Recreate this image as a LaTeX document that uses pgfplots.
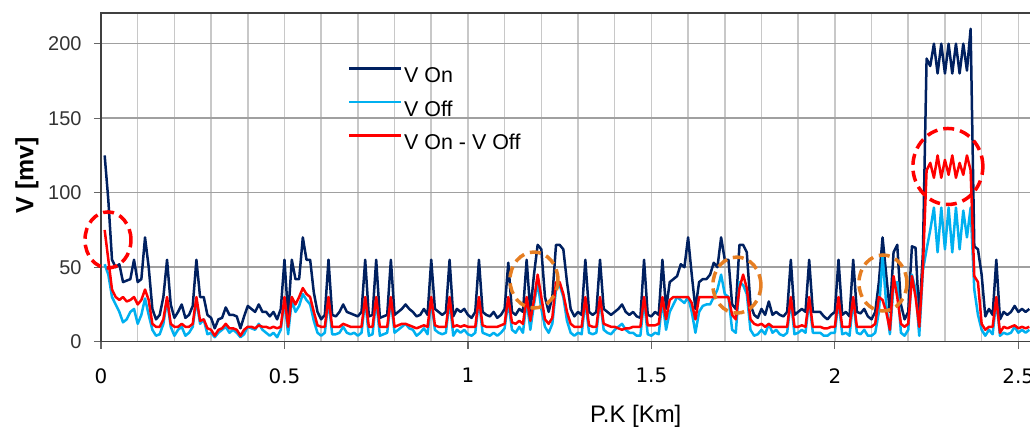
\documentclass[border=0pt]{standalone}
\usepackage{pgfplots}
\pgfplotsset{compat=1.18}
\usepackage{pgfplotstable}
\usepackage{fontspec}
\setmainfont{Liberation Sans}
\newfontfamily\dejavu{DejaVu Sans}

\definecolor{von}{RGB}{0,32,96}
\definecolor{voff}{RGB}{0,176,240}
\definecolor{vdiff}{RGB}{255,0,0}
\definecolor{annorange}{RGB}{230,126,34}
\definecolor{hgrid}{RGB}{160,160,160}
\definecolor{vgrid}{RGB}{200,200,200}

% P.K [km], V On, V Off, V On - V Off [mv]
\pgfplotstableread{
x on off diff
0.01 125 52 75
0.02 95 45 55
0.03 55 30 35
0.04 50 25 30
0.05 52 20 28
0.06 40 13 30
0.07 41 15 27
0.08 42 20 28
0.09 55 22 30
0.10 40 12 25
0.11 42 18 28
0.12 70 29 35
0.13 50 18 28
0.14 22 8 12
0.15 15 4 10
0.16 18 5 10
0.17 30 12 15
0.18 55 28 30
0.19 25 10 12
0.20 16 4 10
0.21 20 8 10
0.22 25 10 12
0.23 16 4 10
0.24 18 6 10
0.25 24 10 12
0.26 55 28 30
0.27 30 12 14
0.28 30 15 15
0.29 18 5 9
0.30 16 6 8
0.31 9 3 4
0.32 15 6 8
0.33 16 8 9
0.34 23 10 12
0.35 18 6 9
0.36 18 8 9
0.37 17 6 8
0.38 9 3 4
0.39 17 5 8
0.40 24 10 10
0.41 22 9 10
0.42 20 8 9
0.43 25 12 11
0.44 20 8 10
0.45 20 6 10
0.46 17 4 9
0.47 20 6 10
0.48 15 3 9
0.49 22 8 10
0.50 55 28 30
0.51 17 5 10
0.52 55 28 30
0.53 42 20 25
0.54 42 24 30
0.55 70 32 36
0.56 55 28 32
0.57 55 25 30
0.58 33 14 20
0.59 20 6 11
0.60 15 4 10
0.61 18 6 10
0.62 55 28 30
0.63 18 5 10
0.64 17 5 10
0.65 20 6 10
0.66 25 10 12
0.67 20 6 11
0.68 19 5 10
0.69 18 6 10
0.70 17 4 10
0.71 20 6 10
0.72 55 28 30
0.73 17 4 10
0.74 18 5 10
0.75 55 28 30
0.76 16 4 10
0.77 17 5 10
0.78 18 6 10
0.79 55 28 30
0.80 18 6 10
0.81 20 8 11
0.82 22 10 12
0.83 25 12 12
0.84 22 9 11
0.85 20 8 10
0.86 17 4 9
0.87 18 6 10
0.88 22 9 11
0.89 18 5 10
0.90 55 28 30
0.91 22 8 11
0.92 20 6 10
0.93 18 5 10
0.94 20 6 10
0.95 55 28 30
0.96 17 4 10
0.97 22 8 11
0.98 20 6 10
0.99 22 8 11
1.00 18 5 10
1.01 16 4 10
1.02 20 6 10
1.03 55 28 30
1.04 20 6 11
1.05 18 5 10
1.06 17 4 10
1.07 20 6 10
1.08 16 4 10
1.09 18 6 11
1.10 22 9 12
1.11 53 27 30
1.12 20 8 13
1.13 18 6 12
1.14 22 10 14
1.15 20 6 12
1.16 55 28 30
1.17 20 8 14
1.18 45 25 28
1.19 65 40 45
1.20 62 22 30
1.21 30 10 15
1.22 20 6 12
1.23 30 12 16
1.24 65 35 40
1.25 65 38 40
1.26 62 30 32
1.27 40 14 20
1.28 22 6 12
1.29 17 4 10
1.30 20 6 10
1.31 18 5 10
1.32 55 28 30
1.33 20 6 11
1.34 18 5 10
1.35 20 6 10
1.36 55 28 30
1.37 22 8 12
1.38 20 6 11
1.39 18 5 10
1.40 20 8 10
1.41 22 10 9
1.42 25 12 8
1.43 20 8 9
1.44 18 6 9
1.45 20 6 10
1.46 17 4 10
1.47 16 4 10
1.48 55 28 30
1.49 18 5 11
1.50 17 4 11
1.51 20 6 11
1.52 18 5 12
1.53 55 28 30
1.54 22 8 15
1.55 40 20 28
1.56 42 25 30
1.57 44 30 30
1.58 52 28 30
1.59 50 26 30
1.60 70 30 30
1.61 45 20 26
1.62 22 6 15
1.63 40 20 30
1.64 42 24 30
1.65 42 25 30
1.66 45 25 30
1.67 53 30 30
1.68 50 35 30
1.69 70 45 30
1.70 55 32 30
1.71 55 30 30
1.72 25 8 18
1.73 22 6 15
1.74 65 40 36
1.75 65 38 45
1.76 60 32 36
1.77 25 8 15
1.78 18 4 12
1.79 16 5 11
1.80 22 8 12
1.81 18 5 10
1.82 27 12 12
1.83 18 6 10
1.84 20 8 10
1.85 18 5 10
1.86 17 4 10
1.87 20 6 10
1.88 55 28 30
1.89 18 5 10
1.90 20 6 10
1.91 22 8 11
1.92 20 6 10
1.93 55 28 30
1.94 20 6 10
1.95 20 6 10
1.96 20 6 10
1.97 17 4 9
1.98 15 4 9
1.99 18 6 10
2.00 20 6 10
2.01 55 28 30
2.02 18 5 10
2.03 20 6 10
2.04 17 4 10
2.05 55 28 30
2.06 20 6 10
2.07 19 5 10
2.08 22 8 10
2.09 17 4 10
2.10 15 4 10
2.11 20 6 12
2.12 40 20 30
2.13 70 58 28
2.14 45 25 20
2.15 20 5 8
2.16 60 38 44
2.17 65 40 30
2.18 25 6 12
2.19 15 4 10
2.20 20 8 12
2.21 64 45 44
2.22 63 35 30
2.23 15 4 10
2.24 60 48 50
2.25 190 62 115
2.26 185 75 120
2.27 200 90 110
2.28 180 60 125
2.29 200 90 110
2.30 180 62 122
2.31 200 90 112
2.32 180 60 125
2.33 200 90 110
2.34 180 62 120
2.35 200 88 112
2.36 182 70 125
2.37 210 90 115
2.38 64 35 44
2.39 62 18 40
2.40 45 8 12
2.41 17 4 8
2.42 22 8 10
2.43 18 5 10
2.44 55 28 30
2.45 15 4 6
2.46 20 6 10
2.47 18 5 9
2.48 20 6 10
2.49 24 10 11
2.50 20 6 9
2.51 22 8 10
2.52 20 6 9
2.53 22 8 10
}\pkdata

\begin{document}
\begin{tikzpicture}[x=1bp,y=1bp]
\useasboundingbox (0,0) rectangle (1030,427);
\clip (0,0) rectangle (1030,427);
\begin{axis}[
    at={(101bp,85.3bp)}, anchor=south west,
    scale only axis,
    width=954bp, height=328.7bp,
    xmin=0, xmax=2.6,
    ymin=0, ymax=220.6,
    clip mode=individual,
    xtick={0,0.5,1,1.5,2,2.5},
    minor tick num=4,
    ytick={0,50,100,150,200},
    xmajorgrids, xminorgrids, ymajorgrids,
    major x grid style={vgrid, line width=1.5bp},
    minor x grid style={vgrid, line width=1.5bp},
    major y grid style={hgrid, line width=1.5bp},
    tick align=outside,
    tick pos=left,
    major tick length=7bp,
    minor tick length=0pt,
    tick style={black!60, line width=1.2bp},
    axis line style={black!75, line width=1.3bp},
    /pgf/number format/assume math mode=true,
    x tick label style={font=\dejavu\fontsize{20}{22}\selectfont, yshift=-16bp},
    y tick label style={font=\fontsize{20}{22}\selectfont, text=black!80, xshift=-9bp},
    xlabel={P.K [Km]},
    xlabel style={at={(axis description cs:0.612,0)}, anchor=north east,
        yshift=-60bp, font=\fontsize{24}{26}\selectfont},
    ylabel={V [mv]},
    ylabel style={at={(axis description cs:-0.0776,0.507)}, anchor=center,
        font=\fontsize{25}{28}\selectfont\bfseries},
    legend style={at={(axis description cs:0.2589,0.838)}, anchor=north west,
        draw=none, fill=none, inner sep=0pt, row sep=13.5bp,
        font=\fontsize{21.5}{23}\selectfont,
        nodes={inner sep=1.5bp}},
    legend cell align=left,
    legend image code/.code={\draw[#1] (0bp,7.5bp) -- (52bp,7.5bp);},
    every axis plot/.append style={line width=2.5bp, line join=round},
]
\addplot[von] table[x=x, y=on] {\pkdata};
\addlegendentry{V On}
\addplot[voff] table[x=x, y=off] {\pkdata};
\addlegendentry{V Off}
\addplot[vdiff] table[x=x, y=diff] {\pkdata};
\addlegendentry{V On - V Off}

% dashed circles
\draw[vdiff, line width=3.5bp, dash pattern=on 11bp off 6bp]
    (axis cs:0.019,68.3) ellipse [x radius=23bp, y radius=28bp];
\draw[vdiff, line width=3.5bp, dash pattern=on 11bp off 6bp]
    (axis cs:2.308,117.6) ellipse [x radius=35bp, y radius=38bp];
\draw[annorange, line width=3.5bp, dash pattern=on 11bp off 6bp]
    (axis cs:1.180,41.4) ellipse [x radius=24bp, y radius=28bp];
\draw[annorange, line width=3.5bp, dash pattern=on 11bp off 6bp]
    (axis cs:1.733,38) ellipse [x radius=24bp, y radius=28bp];
\draw[annorange, line width=3.5bp, dash pattern=on 11bp off 6bp]
    (axis cs:2.131,39.4) ellipse [x radius=24bp, y radius=28bp];
\end{axis}
\end{tikzpicture}
\end{document}
